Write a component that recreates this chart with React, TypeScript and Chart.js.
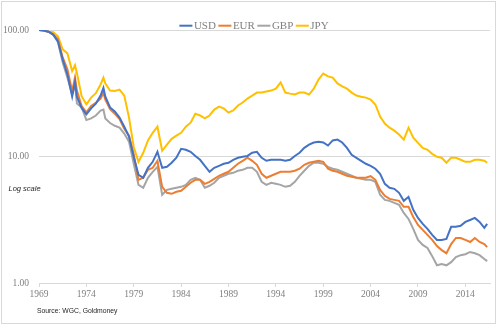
import { useEffect, useRef } from "react";
import { Chart, registerables } from "chart.js";

Chart.register(...registerables);

const years = [
  1969, 1969.5, 1970, 1970.5, 1971, 1971.5, 1972, 1972.5, 1972.8, 1973,
  1973.5, 1974, 1974.5, 1975, 1975.5, 1975.8, 1976, 1976.5, 1977, 1977.5,
  1978, 1978.5, 1979, 1979.5, 1980, 1980.5, 1981, 1981.5, 1982, 1982.5,
  1983, 1983.5, 1984, 1984.5, 1985, 1985.5, 1986, 1986.5, 1987, 1987.5,
  1988, 1988.5, 1989, 1989.5, 1990, 1990.5, 1991, 1991.5, 1992, 1992.5,
  1993, 1993.5, 1994, 1994.5, 1995, 1995.5, 1996, 1996.5, 1997, 1997.5,
  1998, 1998.5, 1999, 1999.5, 2000, 2000.5, 2001, 2001.5, 2002, 2002.5,
  2003, 2003.5, 2004, 2004.5, 2005, 2005.5, 2006, 2006.5, 2007, 2007.5,
  2008, 2008.5, 2009, 2009.5, 2010, 2010.5, 2011, 2011.5, 2012, 2012.5,
  2013, 2013.5, 2014, 2014.5, 2015, 2015.5, 2016, 2016.3,
];

const usd = [
  100, 99, 97, 92, 81.4, 58.5, 44.5, 29.8, 38.7, 29.7,
  24.2, 21.5, 24, 26.2, 30.3, 34.9, 29.7, 24.4, 22.7, 20.3,
  17.2, 14.4, 9.9, 7.17, 6.79, 8.14, 9.08, 10.9, 8.14, 8.29,
  8.92, 9.77, 11.5, 11.3, 10.9, 10.1, 9.42, 8.44, 7.57, 8.14,
  8.44, 8.76, 8.92, 9.42, 9.77, 9.95, 10.1, 10.7, 10.9, 9.77,
  9.25, 9.42, 9.42, 9.42, 9.25, 9.42, 10.1, 10.7, 11.7, 12.4,
  12.9, 13.1, 12.9, 12.2, 13.4, 13.6, 12.9, 11.7, 10.3, 9.77,
  9.25, 8.76, 8.44, 8.0, 7.3, 6.08, 5.66, 5.55, 5.16, 4.46,
  4.8, 3.79, 3.27, 2.93, 2.68, 2.4, 2.19, 2.19, 2.23, 2.78,
  2.78, 2.83, 3.04, 3.15, 3.27, 3.04, 2.73, 2.93,
];

const eur = [
  100, 99, 97, 92, 84.4, 60.7, 48.8, 32.8, 42.2, 33.2,
  25.0, 22.3, 25.1, 26.5, 28.7, 31.9, 28.2, 23.7, 21.8, 19.8,
  16.6, 14.6, 10.4, 6.54, 6.79, 7.85, 8.14, 9.25, 5.76, 5.16,
  5.07, 5.26, 5.36, 5.76, 6.2, 6.54, 6.54, 6.08, 6.31, 6.66,
  7.04, 7.3, 7.57, 8.14, 8.76, 9.25, 9.77, 9.25, 8.6, 7.3,
  6.79, 7.04, 7.3, 7.57, 7.57, 7.57, 7.71, 8.0, 8.6, 8.92,
  9.08, 9.25, 9.08, 8.0, 7.71, 7.57, 7.3, 7.04, 6.92, 6.79,
  6.79, 6.79, 7.0, 6.54, 5.45, 4.89, 4.62, 4.54, 4.46, 4.0,
  4.0, 3.33, 2.88, 2.63, 2.4, 2.19, 1.96, 1.82, 1.72, 2.03,
  2.27, 2.27, 2.19, 2.11, 2.27, 2.11, 2.03, 1.92,
];

const gbp = [
  100, 99, 97, 92, 80, 55.4, 42, 31, 37.1, 26.2,
  24.4, 19.4, 20.0, 21.1, 23.1, 23.5, 20.0, 18.4, 17.5, 16.9,
  15.2, 13.1, 8.76, 5.97, 5.66, 6.79, 7.57, 8.29, 4.98, 5.45,
  5.55, 5.66, 5.76, 5.97, 6.54, 6.79, 6.54, 5.66, 5.87, 6.2,
  6.79, 7.04, 7.3, 7.43, 7.71, 7.85, 8.14, 8.14, 7.57, 6.31,
  5.97, 6.2, 6.08, 5.97, 5.76, 5.87, 6.31, 7.04, 7.71, 8.44,
  8.92, 8.92, 8.76, 8.29, 8.0, 7.85, 7.57, 7.3, 7.04, 6.79,
  6.66, 6.54, 6.54, 6.31, 4.98, 4.54, 4.46, 4.3, 4.15, 3.58,
  3.21, 2.68, 2.19, 2.0, 1.89, 1.63, 1.38, 1.41, 1.38, 1.46,
  1.6, 1.66, 1.69, 1.76, 1.72, 1.66, 1.55, 1.49,
];

const jpy = [
  100, 99, 97, 96, 89, 70.3, 65.3, 47.3, 52.7, 45.8,
  30.0, 25.8, 29.2, 31.7, 37.1, 42, 37.8, 33.2, 32.9, 33.8,
  30.3, 20.3, 11.9, 9.08, 10.7, 13.4, 15.4, 17.2, 11.1, 12.4,
  13.8, 14.6, 15.4, 17.2, 18.5, 21.8, 21.1, 20.0, 21.1, 23.5,
  24.8, 24.0, 22.2, 23.1, 25.3, 26.7, 28.7, 30.3, 32.0, 32.0,
  32.6, 33.2, 34.4, 38.5, 32.0, 31.4, 30.9, 32.0, 32.0, 30.9,
  34.4, 40.6, 45.3, 43.0, 42.1, 37.8, 35.8, 34.4, 32.0, 30.3,
  29.7, 29.2, 28.2, 25.8, 20.7, 18.2, 16.9, 16.0, 14.9, 13.6,
  16.9, 14.1, 12.8, 11.7, 11.3, 10.5, 9.95, 9.77, 8.92, 9.77,
  9.77, 9.42, 9.08, 9.08, 9.42, 9.42, 9.25, 8.92,
];

const seriesNames = ["USD", "EUR", "GBP", "JPY"];
const seriesColors = ["#4472C4", "#ED7D31", "#A5A5A5", "#FFC000"];
const yTickValues = [1, 10, 100];
const xTickValues = [1969, 1974, 1979, 1984, 1989, 1994, 1999, 2004, 2009, 2014];
const noteText = "Log scale";
const sourceText = "Source: WGC, Goldmoney";

export default function App() {
  const ref = useRef<HTMLCanvasElement | null>(null);

  useEffect(() => {
    const canvas = ref.current;
    if (!canvas) return;
    const series = [usd, eur, gbp, jpy];

    const overlay = {
      id: "overlay",
      afterDraw(chart: any) {
        const ctx = chart.ctx as CanvasRenderingContext2D;
        ctx.save();
        ctx.font = '11px "Liberation Serif"';
        ctx.textBaseline = "middle";
        ctx.textAlign = "left";
        const widths = seriesNames.map((n) => ctx.measureText(n).width);
        const lineW = 13;
        const gapText = 1.5;
        const gapItem = 2.5;
        const total =
          widths.reduce((a, w) => a + lineW + gapText + w, 0) +
          gapItem * (seriesNames.length - 1);
        let x = 254 - total / 2;
        const y = 25.7;
        seriesNames.forEach((n, i) => {
          ctx.fillStyle = seriesColors[i];
          ctx.fillRect(x, y - 1, lineW, 2);
          x += lineW + gapText;
          ctx.fillStyle = "#7f7f7f";
          ctx.fillText(n, x, y + 0.5);
          x += widths[i] + gapItem;
        });

        ctx.fillStyle = "#262626";
        ctx.font = 'italic 7.5px "Liberation Sans"';
        ctx.fillText(noteText, 8.5, 189);
        ctx.font = '6.8px "Liberation Sans"';
        ctx.fillText(sourceText, 37, 311.5);
        ctx.restore();
      },
    };

    const chart = new Chart(canvas, {
      type: "line",
      data: {
        datasets: seriesNames.map((name, i) => ({
          label: name,
          data: years.map((yr, j) => ({ x: yr, y: series[i][j] })),
          borderColor: seriesColors[i],
          backgroundColor: seriesColors[i],
          borderWidth: 2,
          pointRadius: 0,
          tension: 0,
          fill: false,
        })),
      },
      options: {
        animation: false,
        responsive: false,
        events: [],
        layout: { padding: { top: 30, right: 7, left: 0, bottom: 0 } },
        plugins: {
          legend: { display: false },
          tooltip: { enabled: false },
          title: { display: false },
        },
        scales: {
          x: {
            type: "linear",
            min: 1969,
            max: 2016.6,
            afterBuildTicks: (s: any) => {
              s.ticks = xTickValues.map((v) => ({ value: v }));
            },
            afterFit: (s: any) => {
              s.height = 42;
            },
            ticks: {
              font: { family: "Liberation Serif", size: 9.5 },
              color: "#7f7f7f",
              padding: 2,
              maxRotation: 0,
              autoSkip: false,
              callback: (v: any) => String(v),
            },
            grid: {
              drawOnChartArea: false,
              drawTicks: true,
              tickLength: 4,
              color: "#d9d9d9",
            },
            border: { display: true, color: "#d9d9d9" },
          },
          y: {
            type: "logarithmic",
            min: 1,
            max: 100,
            afterBuildTicks: (s: any) => {
              s.ticks = yTickValues.map((v) => ({ value: v }));
            },
            afterFit: (s: any) => {
              s.width = 39;
            },
            ticks: {
              font: { family: "Liberation Serif", size: 9.5 },
              color: "#7f7f7f",
              padding: 10,
              callback: (v: any) => Number(v).toFixed(2),
            },
            grid: { color: "#d9d9d9", drawTicks: false },
            border: { display: false },
          },
        },
      } as any,
      plugins: [overlay],
    });

    return () => chart.destroy();
  }, []);

  return (
    <div style={{ position: "fixed", left: 0, top: 0, width: 497, height: 325, background: "#fff" }}>
      <canvas ref={ref} width={497} height={325} style={{ position: "absolute", left: 0, top: 0, width: 497, height: 325 }} />
      <div
        style={{
          position: "absolute",
          left: 1,
          top: 1,
          width: 495,
          height: 323,
          boxSizing: "border-box",
          border: "1px solid #d9d9d9",
          pointerEvents: "none",
        }}
      />
    </div>
  );
}
